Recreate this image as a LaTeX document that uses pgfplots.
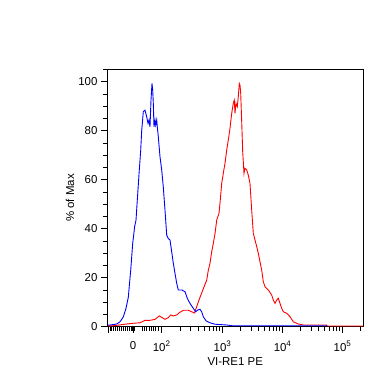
\documentclass[border=0pt]{standalone}
\usepackage{pgfplots}
\pgfplotsset{compat=1.18}
\usepackage{fontspec}
\setmainfont{Liberation Sans}
\begin{document}
\begin{tikzpicture}
\useasboundingbox (-107bp,-43.3bp) rectangle (258bp,326.7bp);
\begin{axis}[
  at={(0,0)}, anchor=south west,
  scale only axis, width=256.5bp, height=257.2bp,
  xmin=107, xmax=363.5, ymin=0, ymax=105,
  axis line style={line width=0.8bp},
  tick align=outside, tick pos=left,
  major tick length=6bp, minor tick length=4bp,
  every tick/.style={black, line width=0.8bp},
  font=\fontsize{11.5}{13}\selectfont,
  /pgf/number format/assume math mode=true,
  ytick={0,20,40,60,80,100},
  minor ytick={5,10,15,25,30,35,45,50,55,65,70,75,85,90,95,105},
  xtick={108,133,161.7,222.5,282.6,342.5},
  xticklabels={{},0,10\textsuperscript{2},10\textsuperscript{3},10\textsuperscript{4},10\textsuperscript{5}},
  xticklabel style={yshift=-5bp},
  minor xtick={110,111.7,113.3,115.3,117.3,119.3,121.3,123.3,125.3,127.3,129.3,131.3,132,132.7,133.4,134,134.7,142.7,144.7,146.7,149,151,153.3,155.7,158,
    180.0,190.7,198.3,204.2,209.0,213.1,216.6,219.7,
    240.6,251.2,258.7,264.5,269.3,273.3,276.8,279.8,
    300.6,311.2,318.7,324.5,329.2,333.2,336.7,339.8,360.5},
  xlabel={VI-RE1 PE},
  ylabel={\% of Max},
  xlabel style={at={(axis description cs:0.5,-0.137)}, anchor=center},
  ylabel style={at={(axis description cs:-0.144,0.5)}, anchor=center},
]
\addplot[color={rgb,255:red,255;green,0;blue,0}, line width=0.9bp] coordinates {
(108,0.3)(113.3,0.4)(126.7,1.1)(133.3,1.4)(140,1.6)(145,2.6)(150,2.6)(155,3)(159.3,4.4)(161.7,3.8)(165,3)(168.3,3.7)(170.7,4.8)(173.3,4.4)(176.7,4.8)(180,5.9)(183.3,6.7)(188.3,6.7)(191.7,6.1)(194.5,5.6)(196.7,8.2)(200,12)(203.3,15.5)(206.7,19)(208.3,23)(210,25.9)(211.7,30.6)(213.3,34)(215,38)(216.7,43.5)(219,46.3)(220,50.4)(221.7,58.5)(223.3,62.6)(225,66.7)(226.7,72.1)(228.3,76.2)(230,81)(231.7,87.1)(233.3,91.2)(234.3,92.5)(235,87.1)(236,91.2)(237.3,89.8)(238.3,93.9)(239.3,99.3)(240,98.6)(240.7,95.3)(241.7,83.7)(242.7,71.4)(244,62.6)(245,64.7)(246.7,64)(248.3,61.9)(250,58.5)(251.7,47.6)(253.3,38.1)(255,35.4)(256.7,32.7)(258.3,30)(260,26.5)(261.7,23.1)(263.3,18.4)(265,16.3)(268.3,15)(271.7,12.9)(273.3,10.9)(275,9.5)(276.7,10.9)(278.3,11.6)(280,9.5)(281.7,7.5)(283.3,6.1)(286.7,5.5)(290,4.1)(293.3,2)(298.3,1.1)(303.3,0.7)(326.7,0.7)(327,0.3)(363.5,0.3)
};
\addplot[color={rgb,255:red,0;green,0;blue,255}, line width=0.9bp] coordinates {
(108,0.6)(112,0.8)(116.7,1.1)(120,2)(123.3,4)(126,7.5)(128.3,12)(130.7,23)(132.7,34)(134.7,41)(136,43.5)(137.3,51.7)(139.3,64)(140.7,72)(141.7,80)(143.3,87.8)(145,88.4)(146.7,85.7)(148,83)(149,84.4)(150,81.6)(151,92.5)(152,99.3)(152.7,96.6)(153.3,91.2)(154,81.6)(155,84.4)(155.7,82.3)(156.7,84.4)(157.3,81.6)(158.3,77.6)(160,69.4)(161.7,64)(163.3,57)(165,47.6)(166.7,37.4)(168.3,36)(170,35.4)(171.7,30.6)(173.3,25.9)(175,21.8)(176.7,17.7)(178.3,15)(181.7,15)(185,14.3)(187.3,11.6)(190,9.5)(193.3,7.5)(195.7,6.1)(197.7,6.8)(200,7.1)(201.7,6.1)(203.3,4.1)(206,2.4)(210,1.6)(215,1.0)(226.7,0.7)(231.7,0.4)(327,0.4)
};
\end{axis}
\end{tikzpicture}
\end{document}
